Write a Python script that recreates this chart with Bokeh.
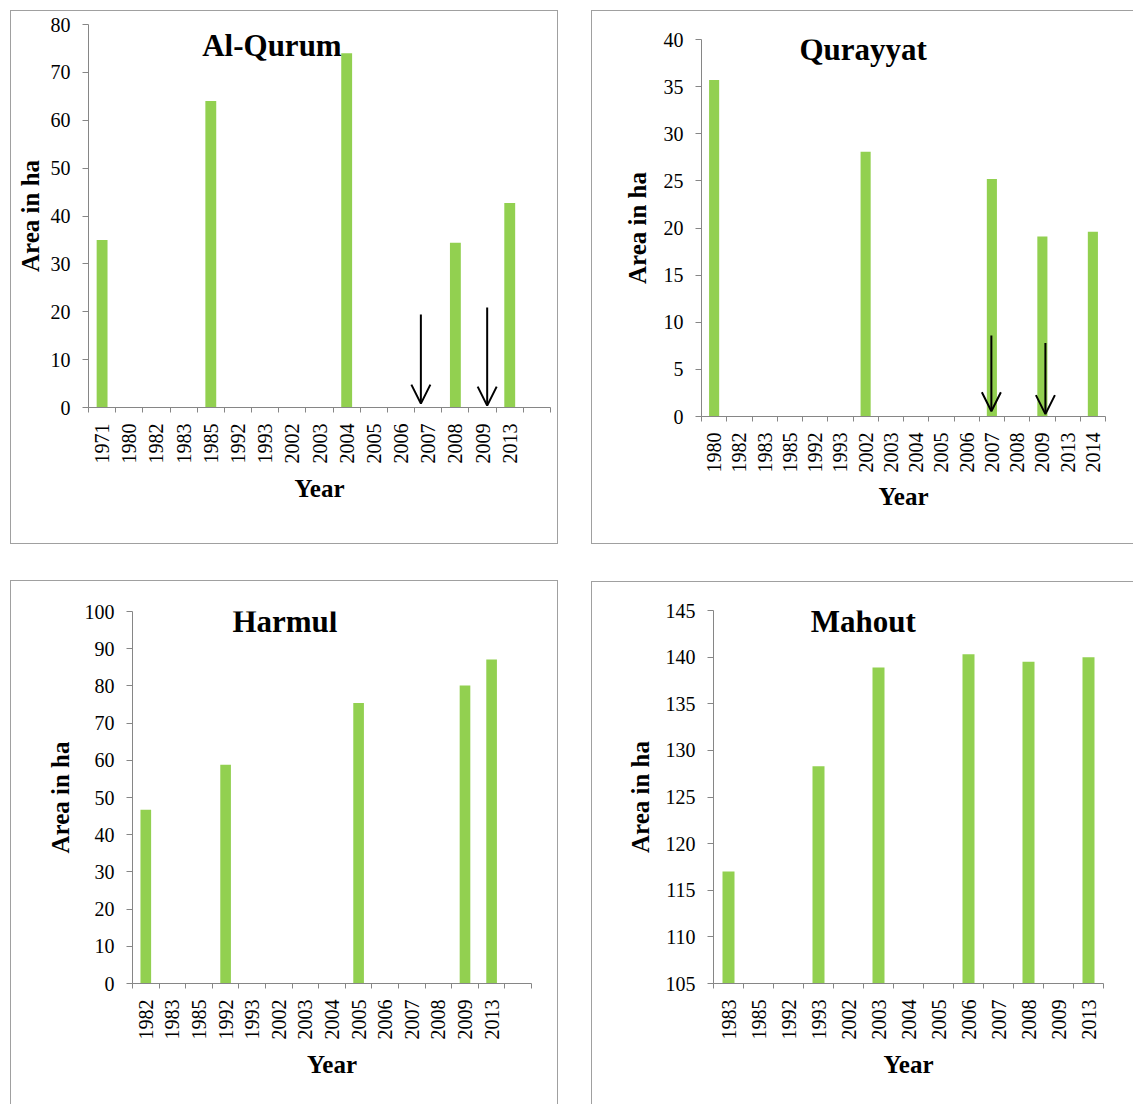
import math
from bokeh.plotting import figure
from bokeh.models import Range1d, FixedTicker, Label, Arrow, OpenHead
from bokeh.layouts import row, column
from bokeh.embed import file_html
from bokeh.resources import INLINE

# ---------------- data ----------------
alqurum_years = ["1971", "1980", "1982", "1983", "1985", "1992", "1993", "2002",
                 "2003", "2004", "2005", "2006", "2007", "2008", "2009", "2013"]
alqurum_area = [35.0, None, None, None, 64.0, None, None, None,
                None, 74.0, None, None, None, 34.4, None, 42.7]
alqurum_arrow_years = ["2007", "2009"]
alqurum_arrow_from = [19.4, 20.9]

qurayyat_years = ["1980", "1982", "1983", "1985", "1992", "1993", "2002", "2003",
                  "2004", "2005", "2006", "2007", "2008", "2009", "2013", "2014"]
qurayyat_area = [35.7, None, None, None, None, None, 28.1, None,
                 None, None, None, 25.2, None, 19.1, None, 19.6]
qurayyat_arrow_years = ["2007", "2009"]
qurayyat_arrow_from = [8.6, 7.8]

harmul_years = ["1982", "1983", "1985", "1992", "1993", "2002", "2003",
                "2004", "2005", "2006", "2007", "2008", "2009", "2013"]
harmul_area = [46.7, None, None, 58.8, None, None, None,
               None, 75.4, None, None, None, 80.1, 87.1]

mahout_years = ["1983", "1985", "1992", "1993", "2002", "2003", "2004",
                "2005", "2006", "2007", "2008", "2009", "2013"]
mahout_area = [117.0, None, None, 128.3, None, 138.9, None,
               None, 140.3, None, 139.5, None, 140.0]

# ---------------- styling ----------------
FONT = "Liberation Serif"
TICK_FONT = "Liberation Serif"
BAR = "#92D050"
AXIS = "#868686"
BORDER = "#a0a0a0"


def make_panel(title, years, areas, n_slots, y0, y1, ystep, width, height,
               borders, title_xy, ylab_standoff, xlab_standoff, css, margin,
               arrows=None):
    left, right, top, bottom = borders
    p = figure(width=width, height=height,
               x_range=Range1d(-0.5, n_slots - 0.5),
               y_range=Range1d(y0, y1),
               output_backend="svg", toolbar_location=None,
               min_border_left=left, min_border_right=right,
               min_border_top=top, min_border_bottom=bottom,
               styles=css, margin=margin)
    p.outline_line_color = None
    p.xgrid.visible = False
    p.ygrid.visible = False
    p.background_fill_color = "white"
    p.border_fill_color = "white"

    idx = [i for i, v in enumerate(areas) if v is not None]
    tops = [areas[i] for i in idx]
    p.vbar(x=idx, top=tops, bottom=y0, width=0.4, fill_color=BAR, line_color=None)

    xa = p.xaxis[0]
    ya = p.yaxis[0]
    for ax in (xa, ya):
        ax.axis_line_color = AXIS
        ax.axis_line_width = 1
        ax.major_label_text_font = TICK_FONT
        ax.major_label_text_font_size = "20px"
        ax.major_label_text_font_style = "normal"
        ax.major_label_text_color = "#000000"
        ax.axis_label_text_font = FONT
        ax.axis_label_text_font_size = "25px"
        ax.axis_label_text_font_style = "bold"
        ax.axis_label_text_color = "#000000"

    ya.ticker = FixedTicker(ticks=list(range(y0, y1 + 1, ystep)))
    ya.major_tick_out = 6
    ya.major_tick_in = 0
    ya.major_tick_line_color = AXIS
    ya.minor_tick_line_color = None
    ya.major_label_standoff = 12
    ya.axis_label = "Area in ha"
    ya.axis_label_standoff = ylab_standoff

    xa.ticker = FixedTicker(ticks=list(range(len(years))),
                            minor_ticks=[i - 0.5 for i in range(n_slots + 1)])
    xa.major_label_overrides = {i: y for i, y in enumerate(years)}
    xa.major_label_orientation = math.pi / 2
    xa.major_tick_line_color = None
    xa.major_tick_out = 0
    xa.major_tick_in = 0
    xa.minor_tick_line_color = AXIS
    xa.minor_tick_out = 5
    xa.minor_tick_in = 0
    xa.major_label_standoff = 11
    xa.axis_label = "Year"
    xa.axis_label_standoff = xlab_standoff

    p.add_layout(Label(x=title_xy[0], y=title_xy[1], text=title,
                       text_font=FONT, text_font_size="31px",
                       text_font_style="bold", text_align="center",
                       text_baseline="alphabetic", text_color="#000000"))

    if arrows:
        for (yr, dx, y_from, y_to) in arrows:
            xc = years.index(yr) + dx
            p.add_layout(Arrow(end=OpenHead(size=19, line_width=2, line_color="black"),
                               x_start=xc, y_start=y_from, x_end=xc, y_end=y_to,
                               line_width=2, line_color="black"))
    return p


p1 = make_panel("Al-Qurum", alqurum_years, alqurum_area, 17, 0, 80, 10,
                548, 534, (77, 9, 13, 138), (6.25, 75.6), 4, 8,
                {"border": "1px solid " + BORDER}, (10, 0, 0, 10),
                arrows=[(alqurum_arrow_years[0], -0.27, alqurum_arrow_from[0], 0.8),
                        (alqurum_arrow_years[1], 0.17, alqurum_arrow_from[1], 0.4)])

p2 = make_panel("Qurayyat", qurayyat_years, qurayyat_area, 16, 0, 40, 5,
                542, 534, (109, 29, 28, 129), (5.9, 38.9), 10, 7,
                {"border": "1px solid " + BORDER, "border-right": "none"}, (10, 0, 0, 33),
                arrows=[(qurayyat_arrow_years[0], -0.02, qurayyat_arrow_from[0], 0.55),
                        (qurayyat_arrow_years[1], 0.12, qurayyat_arrow_from[1], 0.25)])

p3 = make_panel("Harmul", harmul_years, harmul_area, 15, 0, 100, 10,
                548, 524, (121, 28, 30, 122), (5.23, 97.3), 8, 8,
                {"border": "1px solid " + BORDER, "border-bottom": "none"}, (36, 0, 0, 10))

p4 = make_panel("Mahout", mahout_years, mahout_area, 13, 105, 145, 5,
                542, 523, (121, 31, 28, 122), (4.49, 143.8), 9, 8,
                {"border": "1px solid " + BORDER, "border-right": "none",
                 "border-bottom": "none"}, (37, 0, 0, 33))

layout = column(row(column(p1), column(p2), spacing=0),
                row(column(p3), column(p4), spacing=0), spacing=0)

with open("out.html", "w") as f:
    f.write(file_html(layout, INLINE))
